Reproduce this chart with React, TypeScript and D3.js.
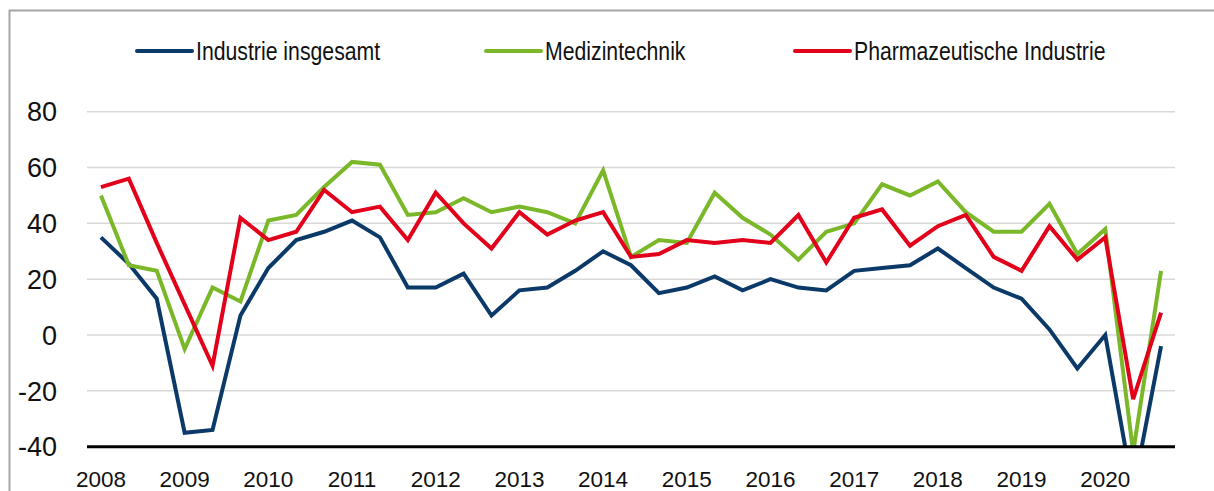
import React, { useEffect, useRef } from "react";
import * as d3 from "d3";

// three readings per year, 2008 to 2020
const years = ["2008", "2009", "2010", "2011", "2012", "2013", "2014", "2015", "2016", "2017", "2018", "2019", "2020"];
const periods = years.flatMap((y) => [y + "-1", y + "-2", y + "-3"]);

const industrie = [35, 25.5, 13, -35, -34, 7, 24, 34, 37, 41, 35, 17, 17, 22, 7, 16, 17, 23, 30, 25, 15, 17, 21, 16, 20, 17, 16, 23, 24, 25, 31, 24, 17, 13, 2, -12, 0, -56, -4];
const medizin = [50, 25, 23, -5, 17, 12, 41, 43, 53, 62, 61, 43, 44, 49, 44, 46, 44, 40, 59, 28, 34, 33, 51, 42, 36, 27, 37, 40, 54, 50, 55, 44, 37, 37, 47, 29, 38, -42, 23];
const pharma = [53, 56, 33, 11, -11, 42, 34, 37, 52, 44, 46, 34, 51, 40, 31, 44, 36, 41, 44, 28, 29, 34, 33, 34, 33, 43, 26, 42, 45, 32, 39, 43, 28, 23, 39, 27, 35, -23, 8];

const yTicks = [-40, -20, 0, 20, 40, 60, 80];

const series = [
  { name: "Industrie insgesamt", values: industrie, color: "#0b3a68" },
  { name: "Medizintechnik", values: medizin, color: "#7ab829" },
  { name: "Pharmazeutische Industrie", values: pharma, color: "#e3001b" },
];

const W = 1214;
const H = 491;

const Chart = () => {
  const ref = useRef(null);

  useEffect(() => {
    const svg = d3.select(ref.current);
    svg.selectAll("*").remove();

    const left = 87, right = 1175, top = 111.7, bottom = 446.7;

    const x = d3.scalePoint().domain(periods).range([left, right]).padding(0.5);
    const y = d3.scaleLinear().domain([-40, 80]).range([bottom, top]);

    // frame (only top and left edge are visible)
    svg.append("path")
      .attr("d", `M9.5,${H} V10.5 H${W}`)
      .attr("fill", "none")
      .attr("stroke", "#a6a6a6")
      .attr("stroke-width", 2);

    // gridlines
    svg.append("g")
      .selectAll("line")
      .data(yTicks.filter((t) => t > -40))
      .enter()
      .append("line")
      .attr("x1", left)
      .attr("x2", right)
      .attr("y1", (d) => y(d))
      .attr("y2", (d) => y(d))
      .attr("stroke", "#d9d9d9")
      .attr("stroke-width", 1.5);

    // y labels
    svg.append("g")
      .selectAll("text")
      .data(yTicks)
      .enter()
      .append("text")
      .attr("x", 57)
      .attr("y", (d) => y(d))
      .attr("dy", "0.36em")
      .attr("text-anchor", "end")
      .style("font-family", "'Liberation Sans', Arial, sans-serif")
      .style("font-size", "27px")
      .style("fill", "#111")
      .text((d) => String(d));

    // clip lines at the bottom axis
    svg.append("clipPath")
      .attr("id", "plotclip")
      .append("rect")
      .attr("x", 0)
      .attr("y", 0)
      .attr("width", W)
      .attr("height", bottom);

    const line = d3.line()
      .x((d, i) => x(periods[i]))
      .y((d) => y(d));

    svg.append("g")
      .attr("clip-path", "url(#plotclip)")
      .selectAll("path")
      .data(series)
      .enter()
      .append("path")
      .attr("d", (s) => line(s.values))
      .attr("fill", "none")
      .attr("stroke", (s) => s.color)
      .attr("stroke-width", 4)
      .attr("stroke-linejoin", "miter");

    // axis line
    svg.append("line")
      .attr("x1", left)
      .attr("x2", right)
      .attr("y1", bottom)
      .attr("y2", bottom)
      .attr("stroke", "#000")
      .attr("stroke-width", 3);

    // year labels at first reading of each year
    svg.append("g")
      .selectAll("text")
      .data(years)
      .enter()
      .append("text")
      .attr("x", (d) => x(d + "-1"))
      .attr("y", 487)
      .attr("text-anchor", "middle")
      .style("font-family", "'Liberation Sans', Arial, sans-serif")
      .style("font-size", "22.5px")
      .style("fill", "#111")
      .text((d) => d);

    // legend
    const legendX = [137, 486, 795];
    const lg = svg.append("g")
      .selectAll("g")
      .data(series)
      .enter()
      .append("g")
      .attr("transform", (d, i) => `translate(${legendX[i]},51)`);

    lg.append("line")
      .attr("x1", 0)
      .attr("x2", 55)
      .attr("stroke", (d) => d.color)
      .attr("stroke-width", 4)
      .attr("stroke-linecap", "round");

    // condensed look: squeeze the text horizontally
    lg.append("text")
      .attr("transform", "translate(59,8.5) scale(0.85,1)")
      .style("font-family", "'Liberation Sans', sans-serif")
      .style("font-size", "25px")
      .style("fill", "#111")
      .text((d) => d.name);
  }, []);

  return (
    <svg
      ref={ref}
      width={W}
      height={H}
      style={{ position: "absolute", left: 0, top: 0, background: "#fff" }}
    />
  );
};

export default function App() {
  return <Chart />;
}
